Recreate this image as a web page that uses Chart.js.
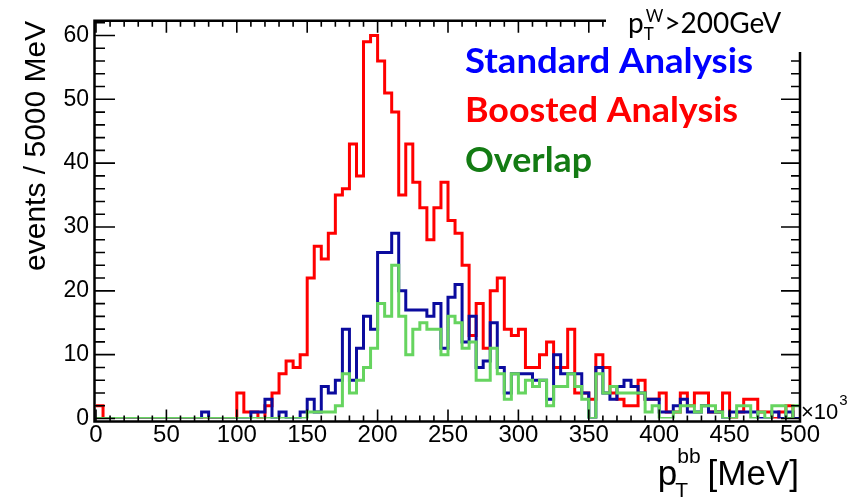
<!DOCTYPE html>
<html>
<head>
<meta charset="utf-8">
<script src="https://cdn.jsdelivr.net/npm/chart.js@4/dist/chart.umd.min.js"></script>
<style>
  html, body { margin: 0; padding: 0; background: #fff; }
  #wrap { width: 863px; height: 499px; }
</style>
</head>
<body>
<div id="wrap"><canvas id="hist" width="863" height="499"></canvas></div>
<script>
// p_T^bb histogram, 100 bins of 5000 MeV (axis in units of 10^3 MeV)
const binWidth = 5;
const binLow = Array.from({ length: 100 }, (_, i) => i * binWidth);

const boosted = [
    2, 0, 0, 0, 0, 0, 0, 0, 0, 0,
    0, 0, 0, 0, 0, 0, 0, 0, 0, 0,
    4, 1, 1, 0, 2, 4, 7, 9, 8, 10,
    22, 27, 25, 29, 35, 36, 43, 38, 59, 60,
    56, 51, 48, 35, 43, 37, 33, 28, 33, 37,
    31, 29, 24, 13, 18, 11, 20, 22, 14, 13,
    14, 8, 8, 10, 12, 8, 8, 14, 4, 4,
    3, 10, 8, 4, 3, 2, 2, 6, 3, 3,
    4, 1, 1, 4, 2, 4, 4, 1, 1, 4,
    0, 1, 3, 3, 1, 1, 0, 1, 2, 0
];
const standard = [
    0, 0, 0, 0, 0, 0, 0, 0, 0, 0,
    0, 0, 0, 0, 0, 1, 0, 0, 0, 0,
    0, 0, 1, 1, 3, 0, 1, 0, 0, 1,
    3, 1, 5, 4, 6, 14, 6, 11, 16, 14,
    26, 26, 29, 20, 17, 17, 17, 16, 18, 11,
    19, 21, 12, 16, 8, 9, 15, 8, 4, 7,
    7, 7, 6, 6, 3, 10, 7, 7, 7, 4,
    0, 8, 4, 3, 5, 6, 5, 4, 3, 3,
    1, 1, 2, 3, 1, 1, 2, 1, 1, 0,
    1, 1, 1, 1, 0, 0, 1, 0, 1, 0
];
const overlap = [
    0, 0, 0, 0, 0, 0, 0, 0, 0, 0,
    0, 0, 0, 0, 0, 0, 0, 0, 0, 0,
    0, 0, 0, 0, 0, 0, 0, 0, 0, 0,
    1, 1, 1, 1, 2, 7, 4, 6, 8, 11,
    18, 16, 24, 16, 10, 14, 15, 14, 14, 10,
    16, 15, 11, 12, 6, 6, 11, 7, 3, 7,
    4, 6, 5, 6, 2, 5, 5, 7, 5, 3,
    0, 7, 4, 5, 4, 4, 4, 4, 1, 2,
    0, 0, 1, 2, 2, 1, 2, 2, 1, 0,
    0, 2, 2, 0, 1, 0, 2, 2, 0, 2
];

const xTicks = [0, 50, 100, 150, 200, 250, 300, 350, 400, 450, 500];
const yTicks = [0, 10, 20, 30, 40, 50, 60];

// step points at the low edge of each bin, plus the closing edge
function steps(values) {
    const pts = binLow.map((x, i) => ({ x: x, y: values[i] }));
    pts.push({ x: binLow[binLow.length - 1] + binWidth, y: values[values.length - 1] });
    return pts;
}

const legendItems = [
    { text: 'Standard Analysis', color: '#0000ff', y: 73, width: 288 },
    { text: 'Boosted Analysis', color: '#ff0000', y: 122, width: 273 },
    { text: 'Overlap', color: '#137b13', y: 172, width: 127 }
];

// draw text squeezed/stretched to a given width
function fitText(ctx, str, x, y, width) {
    const w = ctx.measureText(str).width;
    ctx.save();
    ctx.translate(x, y);
    ctx.scale(width / w, 1);
    ctx.fillText(str, 0, 0);
    ctx.restore();
}

const decorations = {
    id: 'decorations',
    afterDatasetsDraw(chart) {
        const { ctx, chartArea: a, scales: { x, y } } = chart;
        ctx.save();
        ctx.strokeStyle = '#000';

        // frame
        ctx.lineWidth = 2.5;
        ctx.beginPath();
        ctx.moveTo(a.left - 1.5, a.top);
        ctx.lineTo(a.right, a.top);
        ctx.lineTo(a.right, a.bottom + 3);
        ctx.lineTo(a.left - 1.5, a.bottom + 3);
        ctx.closePath();
        ctx.stroke();

        // inward ticks
        ctx.lineWidth = 1.6;
        ctx.beginPath();
        for (let v = 0; v <= 500; v += 10) {
            const px = x.getPixelForValue(v);
            const len = v % 50 === 0 ? 12 : 6;
            ctx.moveTo(px, a.bottom + 3);
            ctx.lineTo(px, a.bottom + 3 - len);
            ctx.moveTo(px, a.top);
            ctx.lineTo(px, a.top + len);
        }
        for (let v = 0; v <= 62; v += 2) {
            const py = y.getPixelForValue(v);
            const len = v % 10 === 0 ? 19 : 9;
            ctx.moveTo(a.left - 1.5, py);
            ctx.lineTo(a.left + len, py);
            ctx.moveTo(a.right, py);
            ctx.lineTo(a.right - len, py);
        }
        ctx.stroke();

        // white label box in the top-right corner
        ctx.fillStyle = '#fff';
        ctx.fillRect(606, 0, 863 - 606, 52);

        // pT^W > 200 GeV
        ctx.fillStyle = '#000';
        ctx.textBaseline = 'alphabetic';
        ctx.textAlign = 'left';
        let cx = 628;
        ctx.font = '28px Lato';
        ctx.fillText('p', cx, 33);
        cx += ctx.measureText('p').width;
        ctx.font = '17px Lato';
        ctx.fillText('T', cx, 40);
        ctx.fillText('W', cx + 2, 22);
        cx += ctx.measureText('W').width + 3;
        ctx.font = '28px Lato';
        ctx.fillText('>200GeV', cx, 33);

        // legend
        ctx.font = 'bold 34px Lato';
        legendItems.forEach(item => {
            ctx.fillStyle = item.color;
            fitText(ctx, item.text, 465, item.y, item.width);
        });

        // x axis title  p_T^bb [MeV]
        ctx.fillStyle = '#000';
        ctx.font = '35px "Liberation Sans"';
        const tail = '[MeV]';
        const tailW = ctx.measureText(tail).width;
        const pW = ctx.measureText('p').width;
        ctx.font = '21px "Liberation Sans"';
        const bbW = ctx.measureText('bb').width;
        const tailX = 799 - tailW;
        const pX = tailX - 7 - bbW - pW;
        ctx.font = '35px "Liberation Sans"';
        ctx.fillText('p', pX, 485);
        ctx.fillText(tail, tailX, 485);
        ctx.font = '21px "Liberation Sans"';
        ctx.fillText('bb', pX + pW, 463);
        ctx.fillText('T', pX + pW - 2, 497);

        // x10^3 multiplier
        ctx.font = '22px "Liberation Sans"';
        ctx.fillText('\u00d710', 801, 419);
        const mW = ctx.measureText('\u00d710').width;
        ctx.font = '15px "Liberation Sans"';
        ctx.fillText('3', 801 + mW + 1, 405);

        ctx.restore();
    }
};

Chart.defaults.font.family = '"Liberation Sans", Arial, sans-serif';
Chart.defaults.color = '#000';

const common = {
    pointRadius: 0,
    pointHoverRadius: 0,
    borderWidth: 3,
    fill: false,
    stepped: true,
    tension: 0
};

new Chart(document.getElementById('hist'), {
    type: 'line',
    data: {
        datasets: [
            { ...common, label: 'Overlap', data: steps(overlap), borderColor: '#66d45f' },
            { ...common, label: 'Standard Analysis', data: steps(standard), borderColor: '#0b0b9e' },
            { ...common, label: 'Boosted Analysis', data: steps(boosted), borderColor: '#ff0000' }
        ]
    },
    options: {
        responsive: false,
        animation: false,
        layout: { padding: { left: 0, right: 63, top: 20, bottom: 0 } },
        plugins: {
            legend: { display: false },
            tooltip: { enabled: false }
        },
        scales: {
            x: {
                type: 'linear',
                min: 0,
                max: 500,
                afterBuildTicks: scale => { scale.ticks = xTicks.map(v => ({ value: v })); },
                afterFit: scale => { scale.height = 80.5; },
                grid: { display: false, drawTicks: false },
                border: { display: false },
                ticks: { font: { size: 24 }, padding: 2, maxRotation: 0, autoSkip: false }
            },
            y: {
                type: 'linear',
                min: 0,
                max: 62.3,
                afterBuildTicks: scale => { scale.ticks = yTicks.map(v => ({ value: v })); },
                afterFit: scale => { scale.width = 96; },
                grid: { display: false, drawTicks: false },
                border: { display: false },
                ticks: { font: { size: 23 }, padding: 7 },
                title: {
                    display: true,
                    text: 'events / 5000 MeV',
                    align: 'end',
                    font: { size: 30 },
                    padding: { top: 19, bottom: 0 }
                }
            }
        }
    },
    plugins: [decorations]
});
</script>
</body>
</html>
